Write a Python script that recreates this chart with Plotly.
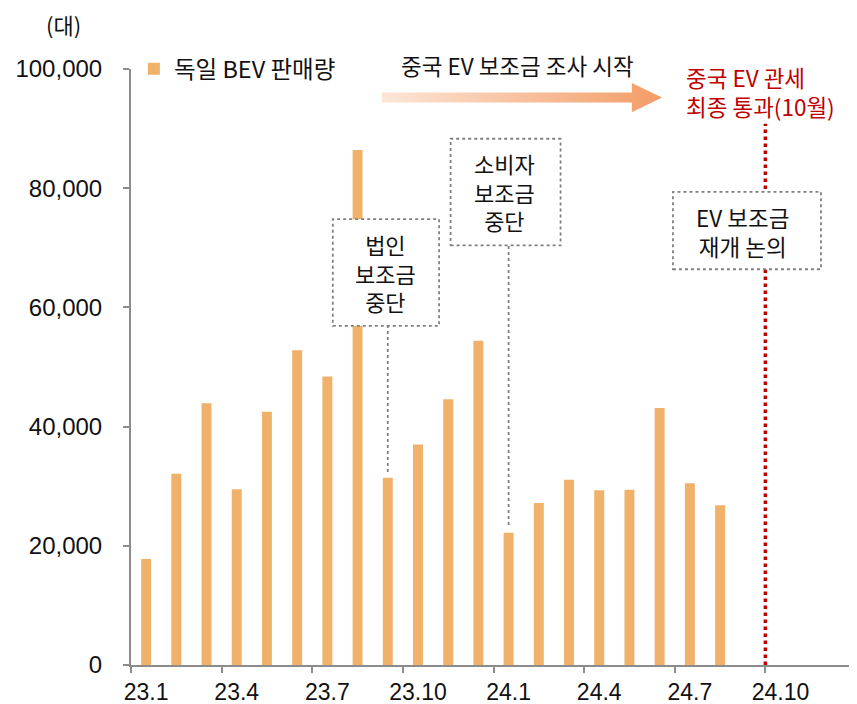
import plotly.graph_objects as go

# ---------------- data ----------------
months = ["23.1", "23.2", "23.3", "23.4", "23.5", "23.6", "23.7", "23.8", "23.9", "23.10", "23.11", "23.12",
          "24.1", "24.2", "24.3", "24.4", "24.5", "24.6", "24.7", "24.8", "24.9", "24.10", "24.11", "24.12"]
sales = [17800, 32100, 43900, 29500, 42500, 52800, 48400, 86400, 31400, 37000, 44600, 54400,
         22200, 27200, 31100, 29300, 29400, 43100, 30500, 26800]
y_ticks = [0, 20000, 40000, 60000, 80000, 100000]
series_name = "독일 BEV 판매량"
unit_label = "(대)"

# event annotations (category the note points to)
corp_event_month = "23.9"
consumer_event_month = "24.1"
tariff_event_month = "24.10"

# ---------------- styles ----------------
BAR_COLOR = "#F0B26B"
AXIS_COLOR = "#8C8C8C"
TEXT_COLOR = "#111111"
RED = "#C00000"
BOX_COLOR = "#808080"
KFONT = "Noto Sans CJK KR, Malgun Gothic, sans-serif"
NFONT = "Liberation Sans, Arial, sans-serif"

fig = go.Figure()

fig.add_trace(go.Bar(
    x=months[:len(sales)], y=sales, name=series_name,
    marker=dict(color=BAR_COLOR, line=dict(width=0)),
    width=0.33, hoverinfo="x+y",
))

# gradient arrow (decoration) drawn on an overlay linear axis matching category indices
ax0, ax1, atip = 7.8, 16.08, 17.08
ac, ah, hh = 95200, 840, 2450
fig.add_trace(go.Scatter(
    x=[ax0, ax1, ax1, atip, ax1, ax1, ax0, ax0],
    y=[ac + ah, ac + ah, ac + hh, ac, ac - hh, ac - ah, ac - ah, ac + ah],
    xaxis="x2", yaxis="y", mode="lines", line=dict(width=0),
    fill="toself",
    fillgradient=dict(type="horizontal", colorscale=[[0, "#FCE6D8"], [1, "#F39C65"]]),
    showlegend=False, hoverinfo="skip",
))

idx = {m: i for i, m in enumerate(months)}
shapes = []
# red dotted tariff line at the boundary before the tariff month
red_x = idx[tariff_event_month] - 0.5
shapes.append(dict(type="line", xref="x", yref="y", x0=red_x, x1=red_x, y0=0, y1=90800,
                   line=dict(color=RED, width=3.5, dash="dot"), layer="above"))
# connectors
ci = idx[corp_event_month]
shapes.append(dict(type="line", xref="x", yref="y", x0=ci, x1=ci, y0=sales[ci] + 1000, y1=56900,
                   line=dict(color=BOX_COLOR, width=1.8, dash="dot"), layer="above"))
si = idx[consumer_event_month]
shapes.append(dict(type="line", xref="x", yref="y", x0=si, x1=si, y0=sales[si] + 1300, y1=70400,
                   line=dict(color=BOX_COLOR, width=1.8, dash="dot"), layer="above"))
# boxes
for (bx0, bx1, by0, by1) in [(6.18, 9.70, 56900, 74800), (10.08, 13.72, 70400, 88300), (17.44, 22.34, 66400, 79400)]:
    shapes.append(dict(type="rect", xref="x", yref="y", x0=bx0, x1=bx1, y0=by0, y1=by1,
                       fillcolor="white", line=dict(color=BOX_COLOR, width=1.8, dash="dot"), layer="above"))

annotations = [
    dict(xref="x", yref="y", x=7.93, y=65900, text="법인<br>보조금<br>중단", showarrow=False,
         font=dict(family=KFONT, size=22, color=TEXT_COLOR), align="center"),
    dict(xref="x", yref="y", x=11.85, y=79400, text="소비자<br>보조금<br>중단", showarrow=False,
         font=dict(family=KFONT, size=22, color=TEXT_COLOR), align="center"),
    dict(xref="x", yref="y", x=19.75, y=72800, text="EV 보조금<br>재개 논의", showarrow=False,
         font=dict(family=KFONT, size=22.5, color=TEXT_COLOR), align="center"),
    dict(xref="x", yref="paper", x=12.3, xanchor="center", y=1.0067, yanchor="middle",
         text="중국 EV 보조금 조사 시작", showarrow=False,
         font=dict(family=KFONT, size=22.5, color=TEXT_COLOR)),
    dict(xref="x", yref="y", x=17.8, xanchor="left", y=96200, text="중국 EV 관세<br>최종 통과(10월)",
         showarrow=False, align="left", font=dict(family=KFONT, size=22.5, color=RED)),
    dict(xref="paper", yref="paper", x=-0.093, xanchor="center", y=1.076, yanchor="middle",
         text=unit_label, showarrow=False,
         font=dict(family=KFONT, size=22, color=TEXT_COLOR)),
]

fig.update_layout(
    width=849, height=696,
    margin=dict(l=123, r=1, t=61, b=39, autoexpand=False),
    paper_bgcolor="white", plot_bgcolor="white",
    bargap=0.67,
    showlegend=True,
    legend=dict(x=0.004, y=1.0, xanchor="left", yanchor="middle", bgcolor="rgba(0,0,0,0)",
                font=dict(family=KFONT, size=23.5, color=TEXT_COLOR), itemwidth=30),
    xaxis=dict(type="category", categoryorder="array", categoryarray=months,
               range=[-0.5, len(months) - 0.5], automargin=False,
               tickmode="linear", tick0=0, dtick=3, tickson="boundaries", tickangle=0,
               ticks="outside", ticklen=6, tickwidth=2, tickcolor=AXIS_COLOR,
               showline=True, linecolor=AXIS_COLOR, linewidth=2,
               showgrid=False, zeroline=False, ticklabelstandoff=5,
               tickfont=dict(family=NFONT, size=23, color=TEXT_COLOR)),
    xaxis2=dict(overlaying="x", range=[-0.5, len(months) - 0.5], visible=False, showgrid=False),
    yaxis=dict(range=[0, 100000], tickmode="array", tickvals=y_ticks, tickformat=",",
               automargin=False,
               ticks="outside", ticklen=6, tickwidth=2, tickcolor=AXIS_COLOR,
               showline=True, linecolor=AXIS_COLOR, linewidth=2,
               showgrid=False, zeroline=False, ticklabelstandoff=16,
               tickfont=dict(family=NFONT, size=24, color=TEXT_COLOR)),
    shapes=shapes,
    annotations=annotations,
)

fig.write_html("out.html")
